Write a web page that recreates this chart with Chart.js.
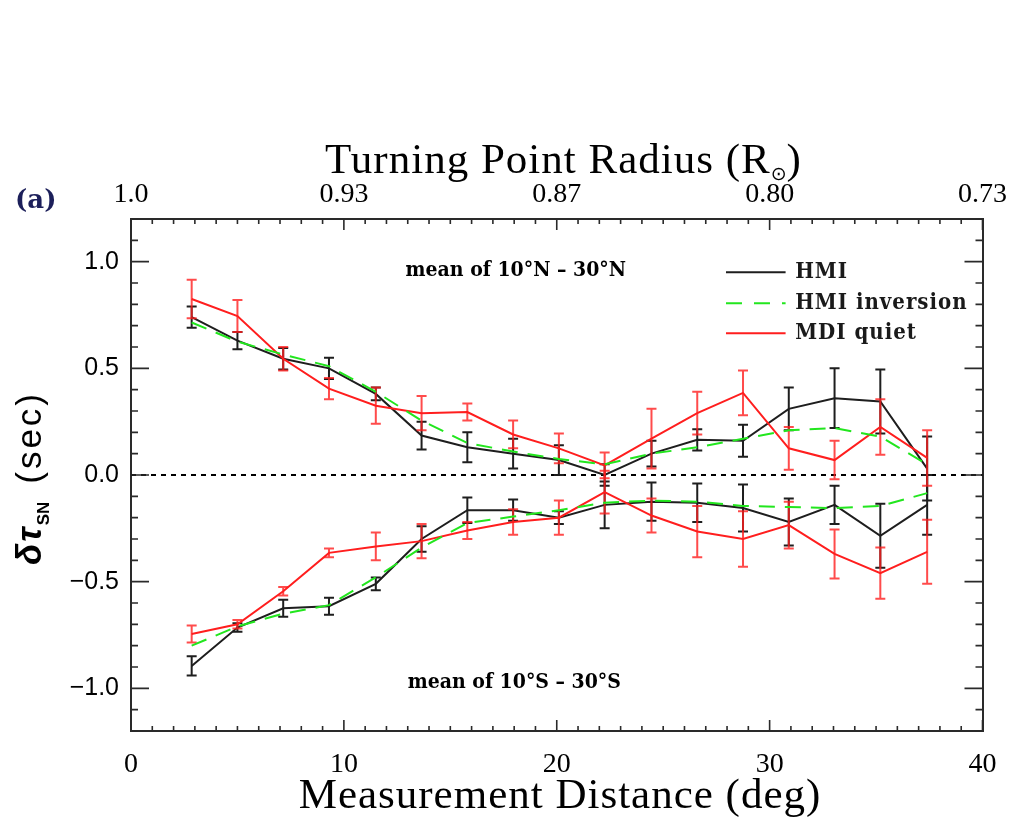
<!DOCTYPE html>
<html>
<head>
<meta charset="utf-8">
<script src="https://cdn.jsdelivr.net/npm/chart.js@4.4.0/dist/chart.umd.min.js"></script>
<style>
  body { margin: 0; background: #fff; }
  canvas { display: block; }
</style>
</head>
<body>
<canvas id="grafico" width="1015" height="821"></canvas>
<script>
// Datos (distancia en grados, delta tau en segundos)
const distancia = [2.85, 5.0, 7.15, 9.3, 11.5, 13.65, 15.8, 17.95, 20.1, 22.25, 24.45, 26.6, 28.75, 30.9, 33.05, 35.2, 37.4];

// Hemisferio norte
const hmiNorte = [0.74, 0.63, 0.545, 0.50, 0.38, 0.185, 0.13, 0.10, 0.07, 0.00, 0.10, 0.165, 0.16, 0.31, 0.36, 0.345, 0.03];
const hmiNorteErr = [0.05, 0.04, 0.05, 0.05, 0.03, 0.065, 0.07, 0.07, 0.07, 0.05, 0.06, 0.05, 0.075, 0.10, 0.14, 0.15, 0.15];
const inversionNorte = [0.715, 0.625, 0.565, 0.51, 0.39, 0.255, 0.15, 0.11, 0.075, 0.05, 0.10, 0.13, 0.17, 0.21, 0.22, 0.18, 0.05];
const mdiNorte = [0.825, 0.745, 0.545, 0.405, 0.325, 0.29, 0.295, 0.19, 0.125, 0.045, 0.17, 0.29, 0.385, 0.125, 0.07, 0.225, 0.08];
const mdiNorteErr = [0.09, 0.075, 0.055, 0.05, 0.085, 0.08, 0.04, 0.065, 0.07, 0.06, 0.14, 0.10, 0.105, 0.10, 0.09, 0.13, 0.13];

// Hemisferio sur
const hmiSur = [-0.895, -0.715, -0.625, -0.615, -0.51, -0.30, -0.165, -0.165, -0.20, -0.14, -0.125, -0.13, -0.155, -0.22, -0.14, -0.285, -0.14];
const hmiSurErr = [0.045, 0.02, 0.04, 0.04, 0.03, 0.06, 0.06, 0.05, 0.03, 0.11, 0.09, 0.09, 0.11, 0.11, 0.09, 0.15, 0.14];
const inversionSur = [-0.80, -0.71, -0.65, -0.61, -0.48, -0.34, -0.225, -0.195, -0.165, -0.13, -0.12, -0.125, -0.145, -0.15, -0.155, -0.145, -0.085];
const mdiSur = [-0.745, -0.70, -0.545, -0.365, -0.335, -0.31, -0.26, -0.22, -0.20, -0.08, -0.19, -0.265, -0.30, -0.235, -0.37, -0.46, -0.36];
const mdiSurErr = [0.04, 0.02, 0.02, 0.02, 0.065, 0.08, 0.04, 0.06, 0.08, 0.10, 0.08, 0.12, 0.13, 0.11, 0.115, 0.12, 0.15];

// Etiquetas de los ejes
const marcasDistancia = [0, 10, 20, 30, 40];
const etiquetasRadio = ['1.0', '0.93', '0.87', '0.80', '0.73'];
const marcasTau = [-1.0, -0.5, 0.0, 0.5, 1.0];

const NEGRO = '#1e1e1e';
const VERDE = '#22e61e';
const ROJO = '#ff1e1e';

function puntos(valores) {
    return distancia.map((d, i) => ({ x: d, y: valores[i] }));
}

function serie(valores, color, extra) {
    return Object.assign({
        data: puntos(valores),
        borderColor: color,
        borderWidth: 2,
        pointRadius: 0,
        fill: false,
        tension: 0
    }, extra);
}

// Barras de error usando la escala y
const barrasError = {
    id: 'barrasError',
    afterDatasetDraw(chart, args) {
        const ds = chart.data.datasets[args.index];
        if (!ds.errores) return;
        const y = chart.scales.y;
        const ctx = chart.ctx;
        ctx.save();
        ctx.strokeStyle = ds.colorError;
        ctx.lineWidth = 2;
        ctx.beginPath();
        args.meta.data.forEach((p, i) => {
            const v = ds.data[i].y;
            const e = ds.errores[i];
            const arriba = y.getPixelForValue(v + e);
            const abajo = y.getPixelForValue(v - e);
            ctx.moveTo(p.x, arriba); ctx.lineTo(p.x, abajo);
            ctx.moveTo(p.x - 5, arriba); ctx.lineTo(p.x + 5, arriba);
            ctx.moveTo(p.x - 5, abajo); ctx.lineTo(p.x + 5, abajo);
        });
        ctx.stroke();
        ctx.restore();
    }
};

// Linea de cero punteada y marcas hacia adentro (estilo IDL)
const marcasInternas = {
    id: 'marcasInternas',
    beforeDatasetsDraw(chart) {
        const { ctx, chartArea: a, scales } = chart;
        const y0 = scales.y.getPixelForValue(0);
        ctx.save();
        ctx.strokeStyle = '#000';
        ctx.lineWidth = 2;
        ctx.setLineDash([5, 5]);
        ctx.beginPath();
        ctx.moveTo(a.left, y0);
        ctx.lineTo(a.right, y0);
        ctx.stroke();
        ctx.restore();
    },
    afterDraw(chart) {
        const { ctx, chartArea: a, scales } = chart;
        ctx.save();
        ctx.strokeStyle = '#2a2a2a';
        ctx.lineWidth = 1.6;
        ctx.beginPath();
        for (let d = 0; d <= 40; d++) {
            const px = scales.x.getPixelForValue(d);
            const largo = d % 10 === 0 ? 11 : 5;
            ctx.moveTo(px, a.bottom); ctx.lineTo(px, a.bottom - largo);
            ctx.moveTo(px, a.top); ctx.lineTo(px, a.top + largo);
        }
        for (let k = -12; k <= 12; k++) {
            const py = scales.y.getPixelForValue(k / 10);
            const largo = k % 5 === 0 ? 18 : 7;
            ctx.moveTo(a.left, py); ctx.lineTo(a.left + largo, py);
            ctx.moveTo(a.right, py); ctx.lineTo(a.right - largo, py);
        }
        ctx.stroke();
        ctx.restore();
    }
};

function dibujarPiezas(ctx, piezas, cx, base) {
    let total = 0;
    piezas.forEach(p => {
        ctx.font = p.font;
        ctx.letterSpacing = p.ls || '0px';
        total += ctx.measureText(p.t).width + (p.gap || 0);
    });
    let x = cx - total / 2;
    piezas.forEach(p => {
        ctx.font = p.font;
        ctx.letterSpacing = p.ls || '0px';
        ctx.fillText(p.t, x, base + (p.dy || 0));
        x += ctx.measureText(p.t).width + (p.gap || 0);
    });
    ctx.letterSpacing = '0px';
}

// Titulos, notas y leyenda
const textos = {
    id: 'textos',
    afterDraw(chart) {
        const { ctx, scales: { x, y } } = chart;
        ctx.save();
        ctx.fillStyle = '#000';
        ctx.textBaseline = 'alphabetic';
        ctx.textAlign = 'left';

        dibujarPiezas(ctx, [
            { t: 'Turning Point Radius (R', font: '43px "Liberation Serif"', ls: '1px' },
            { t: '\u2299', font: '19px "DejaVu Sans"', dy: 7 },
            { t: ')', font: '43px "Liberation Serif"' }
        ], 563, 173);

        dibujarPiezas(ctx, [
            { t: 'Measurement Distance (deg)', font: '43px "Liberation Serif"', ls: '1px' }
        ], 560, 808);

        ctx.fillStyle = '#1c1f5a';
        ctx.font = 'bold 26px "DejaVu Serif"';
        ctx.fillText('(a)', 15, 208);

        // titulo del eje y, girado
        ctx.fillStyle = '#000';
        ctx.save();
        ctx.translate(41, 478);
        ctx.rotate(-Math.PI / 2);
        dibujarPiezas(ctx, [
            { t: '\u03b4\u03c4', font: 'italic bold 35px "Liberation Sans"', ls: '2px' },
            { t: 'SN', font: 'bold 17px "Liberation Sans"', dy: 8, gap: 18 },
            { t: '(sec)', font: '35px "Liberation Sans"', ls: '3px' }
        ], 0, 0);
        ctx.restore();

        // notas
        ctx.font = 'bold 21px "DejaVu Serif"';
        ctx.fontStretch = 'condensed';
        ctx.textBaseline = 'middle';
        ctx.fillText('mean of 10\u00b0N \u2013 30\u00b0N', x.getPixelForValue(12.9), y.getPixelForValue(0.96));
        ctx.fillText('mean of 10\u00b0S \u2013 30\u00b0S', x.getPixelForValue(13.0), y.getPixelForValue(-0.975));

        // leyenda
        const filas = [
            { t: 'HMI', color: NEGRO, dash: [], v: 0.95 },
            { t: 'HMI inversion', color: VERDE, dash: [16, 12], v: 0.805 },
            { t: 'MDI quiet', color: ROJO, dash: [], v: 0.665 }
        ];
        ctx.font = 'bold 22px "DejaVu Serif"';
        ctx.fontStretch = 'condensed';
        ctx.letterSpacing = '1px';
        filas.forEach(f => {
            const py = y.getPixelForValue(f.v);
            ctx.save();
            ctx.strokeStyle = f.color;
            ctx.lineWidth = 2;
            ctx.setLineDash(f.dash);
            ctx.beginPath();
            ctx.moveTo(x.getPixelForValue(27.95), py);
            ctx.lineTo(x.getPixelForValue(30.75), py);
            ctx.stroke();
            ctx.restore();
            ctx.fillStyle = '#1a1a1a';
            ctx.fillText(f.t, x.getPixelForValue(31.2), py);
        });
        ctx.letterSpacing = '0px';
        ctx.restore();
    }
};

const ctx = document.getElementById('grafico').getContext('2d');

new Chart(ctx, {
    type: 'line',
    data: {
        datasets: [
            serie(inversionNorte, VERDE, { borderDash: [16, 10], order: 1 }),
            serie(inversionSur, VERDE, { borderDash: [16, 10], order: 1 }),
            serie(mdiNorte, ROJO, { order: 2, errores: mdiNorteErr, colorError: 'rgba(255,30,30,0.8)' }),
            serie(mdiSur, ROJO, { order: 2, errores: mdiSurErr, colorError: 'rgba(255,30,30,0.8)' }),
            serie(hmiNorte, NEGRO, { order: 3, errores: hmiNorteErr, colorError: NEGRO }),
            serie(hmiSur, NEGRO, { order: 3, errores: hmiSurErr, colorError: NEGRO })
        ]
    },
    options: {
        responsive: false,
        animation: false,
        layout: { padding: 0, autoPadding: false },
        plugins: {
            legend: { display: false },
            tooltip: { enabled: false }
        },
        scales: {
            x: {
                type: 'linear',
                position: 'bottom',
                min: 0,
                max: 40,
                afterBuildTicks: s => { s.ticks = marcasDistancia.map(v => ({ value: v })); },
                afterFit: s => { s.height = 90; },
                ticks: {
                    color: '#000',
                    padding: 17,
                    maxRotation: 0,
                    font: { family: 'Liberation Serif', size: 28 }
                },
                grid: { display: false, drawTicks: false },
                border: { display: true, color: '#2a2a2a', width: 2 }
            },
            x2: {
                type: 'linear',
                position: 'top',
                min: 0,
                max: 40,
                afterBuildTicks: s => { s.ticks = marcasDistancia.map(v => ({ value: v })); },
                afterFit: s => { s.height = 219; },
                ticks: {
                    color: '#000',
                    padding: 8,
                    maxRotation: 0,
                    font: { family: 'Liberation Serif', size: 28 },
                    callback: (v, i) => etiquetasRadio[i]
                },
                grid: { display: false, drawTicks: false },
                border: { display: true, color: '#2a2a2a', width: 2 }
            },
            y: {
                min: -1.2,
                max: 1.2,
                afterBuildTicks: s => { s.ticks = marcasTau.map(v => ({ value: v })); },
                afterFit: s => { s.width = 131; },
                ticks: {
                    color: '#000',
                    padding: 12,
                    font: { family: 'Liberation Sans', size: 25 },
                    callback: v => (v < 0 ? '\u2212' : '') + Math.abs(v).toFixed(1)
                },
                grid: { display: false, drawTicks: false },
                border: { display: true, color: '#2a2a2a', width: 2 }
            },
            y2: {
                position: 'right',
                min: -1.2,
                max: 1.2,
                afterFit: s => { s.width = 27; },
                ticks: { display: false },
                grid: { display: false, drawTicks: false },
                border: { display: true, color: '#2a2a2a', width: 2 }
            }
        }
    },
    plugins: [marcasInternas, barrasError, textos]
});
</script>
</body>
</html>
